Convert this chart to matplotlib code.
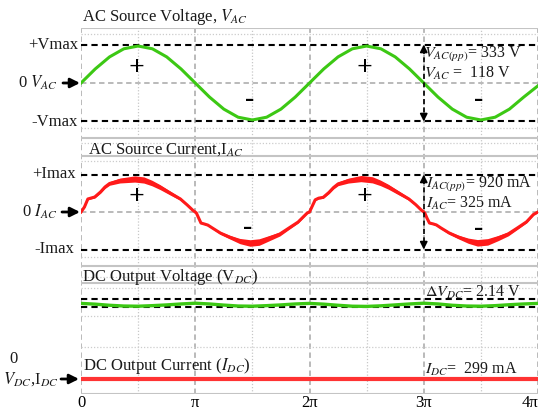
import numpy as np
import matplotlib.pyplot as plt

plt.rcParams['font.family'] = ['Liberation Serif', 'DejaVu Serif']
plt.rcParams['mathtext.fontset'] = 'stix'

# ---- data (x in units of pi) ----
theta_v = np.arange(0, 4.0001, 0.125)
vac = [0, 61, 113, 148, 160, 148, 113, 61, 0, -61, -113, -148, -160, -148, -113, -61,
       0, 61, 113, 148, 160, 148, 113, 61, 0, -61, -113, -148, -160, -148, -113, -61, -12]
vac_pp = 333   # V
vac_rms = 118  # V

iac_theta = [0, 0.03, 0.06, 0.09, 0.12, 0.17, 0.21, 0.25, 0.34, 0.47, 0.55, 0.62, 0.69,
             0.78, 0.87, 0.93, 0.98, 1.00, 1.01, 1.03, 1.05, 1.08, 1.11, 1.15, 1.22, 1.30,
             1.39, 1.48, 1.56, 1.65, 1.74, 1.82, 1.90, 1.98, 2.00,
             2.02, 2.05, 2.08, 2.12, 2.17, 2.21, 2.25, 2.34, 2.45, 2.55, 2.62, 2.69,
             2.78, 2.87, 2.93, 2.98, 3.00, 3.01, 3.03, 3.05, 3.08, 3.11, 3.15, 3.22, 3.30,
             3.39, 3.47, 3.56, 3.65, 3.74, 3.82, 3.90, 3.96, 4.00]
iac = [0, 61, 160, 172, 184, 245, 307, 350, 386, 405, 393, 356, 307,
       233, 160, 86, 20, 0, -12, -74, -135, -147, -160, -196, -258, -307,
       -356, -380, -368, -319, -270, -196, -123, -12, 0,
       60, 150, 170, 180, 240, 300, 345, 385, 410, 395, 358, 310,
       235, 160, 90, 22, 0, -15, -80, -135, -145, -158, -195, -255, -305,
       -352, -378, -366, -320, -268, -195, -120, -30, 0]
iac_band = [4, 8, 10, 10, 12, 15, 18, 22, 30, 38, 38, 34, 30,
            24, 17, 12, 6, 4, 4, 6, 8, 8, 10, 12, 17, 22,
            32, 40, 40, 32, 24, 18, 13, 6, 4,
            8, 10, 10, 12, 15, 18, 22, 30, 38, 38, 34, 30,
            24, 17, 12, 6, 4, 4, 6, 8, 8, 10, 12, 17, 22,
            32, 40, 40, 32, 24, 18, 13, 8, 4]
iac_pp = 920   # mA
iac_rms = 325  # mA

theta_dc = np.arange(0, 4.0001, 0.125)
vdc_ripple = [-0.1, -0.3, -0.6, -0.8, -0.85, -0.7, -0.5, -0.25, -0.05, -0.25, -0.55, -0.8,
              -0.85, -0.7, -0.5, -0.25, -0.1, -0.3, -0.6, -0.85, -0.9, -0.75, -0.5, -0.25,
              -0.05, -0.25, -0.6, -0.8, -0.85, -0.7, -0.45, -0.25, -0.1]
dvdc = 2.14   # V
idc = 299     # mA

x_ticks = [0, 1, 2, 3, 4]
x_labels = ['0', 'π', '2π', '3π', '4π']

W, H = 539, 411
fig = plt.figure(figsize=(W / 100, H / 100), dpi=100)

X0, X1 = 81, 538


def ax_at(top, bot):
    return fig.add_axes([X0 / W, 1 - bot / H, (X1 - X0) / W, (bot - top) / H])


def ftext(x, y, s, **kw):
    kw.setdefault('fontsize', 12)
    kw.setdefault('va', 'center')
    kw.setdefault('color', '#1a1a1a')
    fig.text(x / W, 1 - y / H, s, **kw)


def farrow(x0, x1, y):
    fig.add_artist(plt.Annotation('', xy=(x1 / W, 1 - y / H), xytext=(x0 / W, 1 - y / H),
                                  xycoords='figure fraction', textcoords='figure fraction',
                                  arrowprops=dict(arrowstyle='-|>', color='k', lw=2,
                                                  mutation_scale=14, shrinkA=0, shrinkB=0)))


def vspan_arrow(ax, top, bot, head):
    # dashed vertical line with arrow heads at both ends
    ax.plot([3, 3], [top - head * 0.6, bot + head * 0.6], color='k', lw=1.2, ls=(0, (3, 2)))
    for tip, base in [(top, top - head), (bot, bot + head)]:
        ax.annotate('', xy=(3, tip), xytext=(3, base),
                    arrowprops=dict(arrowstyle='-|>', color='k', lw=1.2,
                                    mutation_scale=11, shrinkA=0, shrinkB=0))


# ---- background grid (pixel rows) ----
g = ax_at(28, 394)
g.set_xlim(0, 4)
g.set_ylim(394, 28)
for sp in g.spines.values():
    sp.set_visible(False)
g.set_yticks([])
g.set_xticks(x_ticks)
g.set_xticklabels(x_labels, fontsize=12)
g.get_xticklabels()[-1].set_ha('right')
g.tick_params(axis='x', length=0, pad=1)
for k in [0.5, 1.5, 2.5, 3.5]:
    g.axvline(k, color='#c8c8c8', lw=0.9, ls=(0, (1, 1.5)))
for k in x_ticks:
    g.axvline(k, color='#b4b4b4', lw=1.3, ls=(0, (3, 2)))
for yy in [28, 138, 156, 266, 283, 394]:
    g.axhline(yy, color='#c4c4c4', lw=1.5)
for yy in [34, 128, 143, 161, 257, 277, 288, 316, 347]:
    g.axhline(yy, color='#cccccc', lw=0.9, ls=(0, (1, 1.5)))

black_dash = dict(color='k', lw=1.5, ls=(0, (3, 2)))
gray_dash = dict(color='#b4b4b4', lw=1.3, ls=(0, (3, 2)))

# ---- AC source voltage ----
va = ax_at(28, 138)
va.set_xlim(0, 4)
va.set_ylim(-238, 238)
va.axis('off')
va.axhline(0, **gray_dash)
va.axhline(vac_pp / 2, **black_dash)
va.axhline(-vac_pp / 2, **black_dash)
va.plot(theta_v, vac, color='#3cc814', lw=2.2)
vspan_arrow(va, vac_pp / 2, -vac_pp / 2, 30)

# ---- AC source current ----
ia = ax_at(156, 266)
ia.set_xlim(0, 4)
ia.set_ylim(-662, 687)
ia.axis('off')
ia.axhline(0, **gray_dash)
ia.axhline(iac_pp / 2, **black_dash)
ia.axhline(-iac_pp / 2, **black_dash)
lo = np.array(iac) - np.array(iac_band)
hi = np.array(iac) + np.array(iac_band)
ia.fill_between(iac_theta, lo, hi, color='#ff1a1a', lw=0)
ia.plot(iac_theta, iac, color='#ff1a1a', lw=2.2)
vspan_arrow(ia, iac_pp / 2, -iac_pp / 2, 85)

# ---- DC output voltage / current ----
dv = ax_at(283, 394)
dv.set_xlim(0, 4)
dv.set_ylim(-24.3, 5.35)
dv.axis('off')
dv.axhline(dvdc / 2, **black_dash)
dv.axhline(-dvdc / 2, **black_dash)
dv.plot(theta_dc, vdc_ripple, color='#3cc814', lw=2.4)

di = ax_at(283, 394)
di.set_xlim(0, 4)
di.set_ylim(149, 1259)
di.axis('off')
di.plot([0, 4], [idc, idc], color='#ff3333', lw=3)

# ---- titles / labels ----
ftext(82, 17, 'AC Source Voltage, $V_{AC}$')
ftext(88, 150, 'AC Source Current,I$_{AC}$')
ftext(82, 277, 'DC Output Voltage (V$_{DC}$)')
ftext(83, 366, 'DC Output Current ($I_{DC}$)')

ftext(78, 45, '+Vmax', ha='right')
ftext(58, 83, '0 $V_{AC}$', ha='right')
ftext(78, 122, '-Vmax', ha='right')
ftext(76, 174, '+Imax', ha='right')
ftext(57, 212, '0 $I_{AC}$', ha='right')
ftext(74, 249, '-Imax', ha='right')
ftext(13, 359, '0', ha='center')
ftext(59, 379, '$V_{DC}$,I$_{DC}$', ha='right')
farrow(63, 80, 83)
farrow(62, 80, 212)
farrow(61, 79, 379)

ftext(424, 55, '$V_{AC(pp)}$= %d V' % vac_pp, fontsize=11.5)
ftext(424, 73, '$V_{AC}$ =  %d V' % vac_rms, fontsize=11.5)
ftext(426, 184, '$I_{AC(pp)}$= %d mA' % iac_pp, fontsize=11.5)
ftext(426, 203, '$I_{AC}$= %d mA' % iac_rms, fontsize=11.5)
ftext(425, 292, r'$\Delta V_{DC}$= %.2f V' % dvdc, fontsize=11.5)
ftext(425, 369, '$I_{DC}$=  %d mA' % idc, fontsize=11.5)

for x, y, s in [(136, 68, '+'), (364, 68, '+'), (250, 99, '-'), (479, 99, '-'),
                (136, 197, '+'), (364, 197, '+'), (248, 227, '-'), (479, 228, '-')]:
    ftext(x, y, s, ha='center', fontsize=20, fontweight='bold', color='k')

fig.savefig('out.png', dpi=100)
